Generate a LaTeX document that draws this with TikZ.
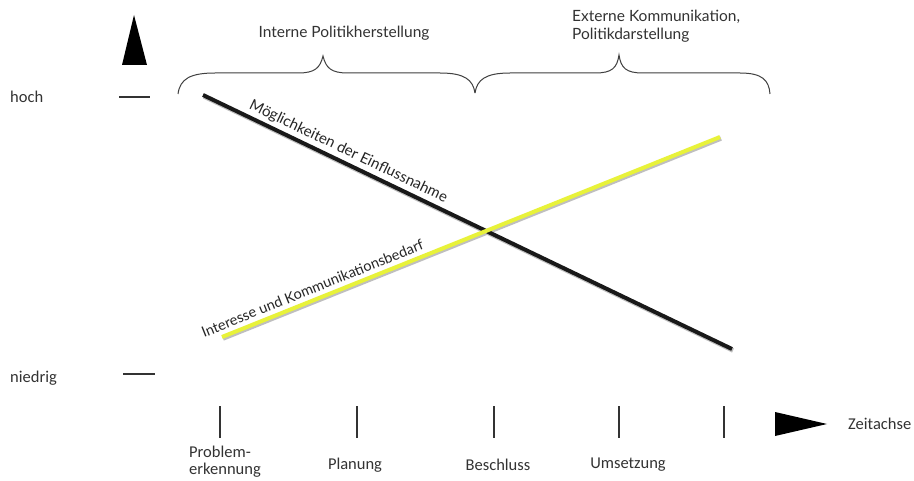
\documentclass[tikz,border=0pt]{standalone}
\usepackage{fontspec}
\setmainfont{Carlito}
\newfontfamily\latofont{Lato}
\begin{document}
\begin{tikzpicture}[x=1pt,y=-1pt,
  axislabel/.style={font=\fontsize{16.5}{18}\selectfont, text=black!80, inner sep=0pt},
  phaselabel/.style={font=\fontsize{16.5}{18}\selectfont, text=black!80, inner sep=0pt, align=left},
  headlabel/.style={font=\latofont\fontsize{15.5}{18}\selectfont, text=black!80, inner sep=0pt, align=left},
  curvelabel/.style={font=\latofont\fontsize{15}{17}\selectfont, text=black!85, inner sep=0pt, sloped},
  tickmark/.style={draw=black!80, line width=1.1pt},
  bracepath/.style={draw=black!75, line width=1pt},
  shade line/.style={draw=black!25, line width=4.5pt},
]
\useasboundingbox[fill=white] (0,0) rectangle (914,481);

% axis arrows
\fill[black] (134,15) -- (147,65) -- (122,65) -- cycle;
\fill[black] (775,412) -- (827,424) -- (775,436) -- cycle;

% level marks and labels
\node[axislabel, anchor=west] (hoch) at (10,97) {hoch};
\coordinate (hochA) at (119,97);
\coordinate (hochB) at (150,97);
\draw[tickmark] (hochA) -- (hochB);
\node[axislabel, anchor=west] (niedrig) at (10,378) {niedrig};
\coordinate (niedA) at (123,374);
\coordinate (niedB) at (155,374);
\draw[tickmark] (niedA) -- (niedB);

% time axis ticks
\foreach \x/\n in {220/t1, 357/t2, 494/t3, 619/t4, 724/t5}{
  \coordinate (\n a) at (\x,406);
  \coordinate (\n b) at (\x,438);
  \draw[tickmark] (\n a) -- (\n b);
}
\node[phaselabel, anchor=north west] (problem) at (189,446) {Problem-\\[-1pt]erkennung};
\node[phaselabel] (planung) at (355,465) {Planung};
\node[phaselabel] (beschluss) at (498,465) {Beschluss};
\node[phaselabel] (umsetzung) at (628,465) {Umsetzung};
\node[axislabel, anchor=west] (zeit) at (848,424) {Zeitachse};

% braces over the two phases
\draw[bracepath] (178,94) .. controls (180,79) and (190,73) .. (215,73) -- (298,73)
  .. controls (315,73) and (320,68) .. (323,56) .. controls (326,68) and (331,73) .. (348,73)
  -- (440,73) .. controls (465,73) and (473,80) .. (475,93);
\draw[bracepath] (475,93) .. controls (477,80) and (485,73) .. (510,73) -- (595,73)
  .. controls (612,73) and (617,68) .. (619,55) .. controls (621,68) and (626,73) .. (643,73)
  -- (740,73) .. controls (762,73) and (769,80) .. (770,94);
\node[headlabel] (intern) at (344,33) {Interne Politikherstellung};
\node[headlabel, anchor=west] (extern) at (572,26) {Externe Kommunikation,\\Politikdarstellung};

% influence and communication curves
\coordinate (infA) at (203,95);
\coordinate (infB) at (732,349);
\coordinate (comA) at (222,337);
\coordinate (comB) at (720,137);
\draw[shade line] ([shift={(1,1.5)}]infA) -- ([shift={(1,1.5)}]infB);
\draw[shade line] ([shift={(1,1.5)}]comA) -- ([shift={(1,1.5)}]comB);
\draw[black!90, line width=4pt] (infA) -- (infB)
  node[curvelabel, pos=0.265, above=3pt] (infl) {Möglichkeiten der Einflussnahme};
\draw[color={rgb,255:red,232;green,242;blue,58}, line width=4pt] (comA) -- (comB)
  node[curvelabel, pos=0.19, above=4pt, font=\latofont\fontsize{14.5}{17}\selectfont] (comm) {Interesse und Kommunikationsbedarf};
\end{tikzpicture}
\end{document}
